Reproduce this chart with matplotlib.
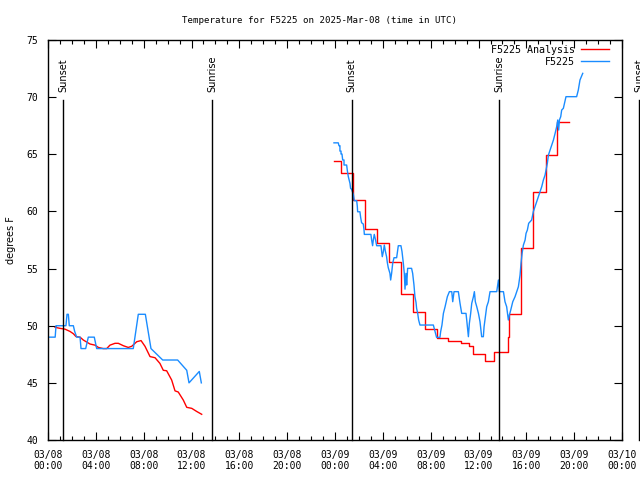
import matplotlib
matplotlib.use("Agg")
import matplotlib.pyplot as plt
import matplotlib.dates as mdates
import numpy as np
import pandas as pd

base = pd.Timestamp("2025-03-08 00:00")

# hours since 03/08 00:00 UTC, temperature in F
obs1_h = [0.08, 0.6, 0.67, 1.5, 1.59, 1.7, 1.78, 2.12, 2.23, 2.40, 2.68, 2.76, 3.15, 3.37, 3.87,
          4.07, 7.13, 7.55, 8.14, 8.61, 9.59, 10.84, 11.60, 11.79, 12.65, 12.82]
obs1_t = [49, 49, 50, 50, 51, 51, 50, 50, 49.5, 49, 49, 48, 48, 49, 49,
          48, 48, 51, 51, 48, 47, 47, 46.1, 45, 46, 45]

ana1_h = [0.59, 1.00, 1.42, 1.84, 2.12, 2.34, 2.68, 2.95, 3.51, 3.93, 4.21, 4.62, 4.91, 5.18, 5.60,
          5.88, 6.30, 6.71, 7.00, 7.42, 7.78, 8.11, 8.53, 8.95, 9.36, 9.64, 9.92, 10.34, 10.62,
          10.89, 11.31, 11.60, 12.02, 12.43, 12.85]
ana1_t = [49.86, 49.77, 49.7, 49.5, 49.3, 49.05, 49.0, 48.75, 48.4, 48.3, 48.1, 48.0, 48.0, 48.3, 48.46,
          48.46, 48.25, 48.1, 48.2, 48.6, 48.7, 48.2, 47.3, 47.2, 46.7, 46.1, 46.06, 45.25, 44.3,
          44.2, 43.5, 42.86, 42.77, 42.5, 42.25]

obs2_h = [23.91, 24.27, 24.33, 24.41, 24.41, 24.50, 24.50, 24.58, 24.64, 24.75, 24.75, 24.97, 25.03,
          25.11, 25.25, 25.30, 25.39, 25.53, 25.61, 25.81, 25.86, 25.89, 26.08, 26.14, 26.22, 26.36,
          26.42, 26.45, 27.0, 27.06, 27.14, 27.2, 27.28, 27.39, 27.48, 27.84, 27.9, 27.95, 28.04,
          28.12, 28.2, 28.31, 28.37, 28.45, 28.59, 28.65, 28.73, 28.82, 28.93, 29.15, 29.29, 29.51,
          29.6, 29.71, 29.79, 29.85, 29.93, 29.99, 30.07, 30.4, 30.49, 30.6, 30.68, 30.77, 30.82,
          30.91, 30.99, 31.1, 32.22, 32.36, 32.49, 32.77, 32.83, 32.94, 33.06, 33.2, 33.39, 33.56,
          33.76, 33.84, 33.95, 34.31, 34.45, 34.59, 34.95, 35.01, 35.15, 35.23, 35.34, 35.43, 35.57,
          35.65, 35.73, 35.85, 35.99, 36.12, 36.26, 36.4, 36.46, 36.57, 36.68, 36.82, 36.96, 37.52,
          37.66, 37.74, 38.08, 38.21, 38.35, 38.49, 38.58, 38.69, 38.86, 39.05, 39.19, 39.33, 39.47,
          39.55, 39.64, 39.75, 39.89, 39.97, 40.08, 40.19, 40.44, 40.58, 40.72, 40.86, 41.0, 41.14,
          41.28, 41.42, 41.56, 41.64, 41.75, 41.84, 42.12, 42.26, 42.4, 42.53, 42.62, 42.7, 42.76,
          42.87, 42.95, 43.09, 43.31, 44.2, 44.34, 44.48, 44.71]
obs2_t = [66.0, 66.0, 65.75, 65.75, 65.28, 65.28, 65.02, 65.02, 64.5, 64.5, 64.06, 64.06, 63.56,
          63.04, 62.45, 62.02, 61.93, 61.49, 60.94, 60.94, 60.47, 59.97, 59.97, 59.48, 59.01, 58.9,
          58.43, 57.99, 57.99, 57.5, 57.0, 57.5, 57.99, 57.5, 57.0, 57.0, 56.48, 56.04, 56.48,
          57.06, 56.56, 56.04, 55.54, 55.08, 54.58, 54.0, 54.58, 55.46, 55.95, 55.95, 57.0, 57.0,
          56.48, 55.46, 54.58, 53.2, 54.58, 53.56, 55.02, 55.02, 54.58, 53.56, 52.54, 52.04, 51.52,
          51.08, 50.5, 50.06, 50.06, 49.48, 48.98, 48.98, 49.48, 50.06, 51.08, 51.66, 52.54, 52.98,
          52.98, 52.1, 52.98, 52.98, 51.96, 51.08, 51.08, 50.5, 49.04, 50.2, 51.08, 51.96, 52.54,
          52.98, 52.1, 51.66, 51.08, 50.35, 49.04, 49.04, 49.91, 50.79, 51.66, 52.1, 52.98, 52.98,
          54.0, 52.98, 52.98, 52.1, 51.66, 50.5, 50.94, 51.37, 52.1, 52.54, 52.98, 53.41, 54.44,
          55.46, 56.33, 57.06, 57.5, 58.08, 58.37, 58.96, 59.25, 59.98, 60.41, 60.85, 61.29, 61.73,
          62.16, 62.75, 63.18, 63.62, 64.2, 64.93, 65.81, 66.25, 66.83, 67.41, 68.0, 67.12, 68.0,
          68.29, 68.87, 69.02, 70.04, 70.04, 70.62, 71.5, 72.08]

ana2_h = [23.91, 24.5, 25.46, 26.5, 27.47, 28.5, 29.48, 30.5, 31.5, 32.49, 33.44, 34.49, 35.2, 35.54,
          36.54, 37.33, 38.46, 38.55, 39.55, 40.55, 41.6, 42.6, 43.54]
ana2_t = [64.4, 63.4, 61.0, 58.5, 57.2, 55.55, 52.8, 51.2, 49.7, 48.9, 48.7, 48.5, 48.25, 47.5,
          46.9, 47.7, 49.0, 51.0, 56.8, 61.7, 64.9, 67.8, 67.8]

sun_h = [1.28, 13.71, 25.39, 37.74, 49.44]
sun_lab = ["Sunset", "Sunrise", "Sunset", "Sunrise", "Sunset"]

def to_time(hours):
    return base + pd.to_timedelta(np.array(hours), unit="h")

plt.rcParams['font.family'] = 'DejaVu Sans Mono'
fig = plt.figure(figsize=(6.4, 4.8), dpi=100)
ax = fig.add_axes([0.075, 0.0833, 0.897, 0.8334])

red = '#ff0000'
blue = '#1a8cff'
lw = 1.0

ax.plot(to_time(ana1_h), ana1_t, color=red, lw=lw, label='F5225 Analysis')
ax.plot(to_time(ana2_h), ana2_t, color=red, lw=lw, drawstyle='steps-post')
ax.plot(to_time(obs1_h), obs1_t, color=blue, lw=lw, label='F5225')
ax.plot(to_time(obs2_h), obs2_t, color=blue, lw=lw)

# sunrise / sunset markers
for h, lab in zip(sun_h, sun_lab):
    t = to_time([h])[0]
    ax.plot([t, t], [40, 69.75], color='black', lw=1.0, clip_on=False)
    ax.text(t, 70.45, lab, rotation=90, ha='center', va='bottom', fontsize=7,
            family='DejaVu Sans', clip_on=False)

ax.set_xlim(base, base + pd.Timedelta(hours=48))
ax.set_ylim(40, 75)
ax.xaxis.set_major_locator(mdates.HourLocator(byhour=range(0, 24, 4)))
ax.xaxis.set_minor_locator(mdates.HourLocator())
ax.xaxis.set_major_formatter(mdates.DateFormatter('%m/%d\n%H:%M'))
ax.set_yticks(range(40, 80, 5))
ax.tick_params(which='major', direction='in', length=6, width=0.8, top=True, right=True,
               labelsize=7, pad=7)
ax.tick_params(which='minor', direction='in', length=3, width=0.8, top=True, right=True)
for s in ax.spines.values():
    s.set_linewidth(1.0)

ax.set_ylabel('degrees F', fontsize=7, family='DejaVu Sans')
ax.yaxis.set_label_coords(-0.056, 0.5)
fig.text(0.5, 0.958, 'Temperature for F5225 on 2025-Mar-08 (time in UTC)', fontsize=6.6,
         ha='center', va='center')

ax.legend(loc='upper right', bbox_to_anchor=(0.979, 0.99), frameon=False, markerfirst=False,
          fontsize=7.2, handlelength=2.8, borderaxespad=0, borderpad=0.1, labelspacing=0.2,
          handletextpad=0.6)

fig.savefig('out.png', dpi=100)
